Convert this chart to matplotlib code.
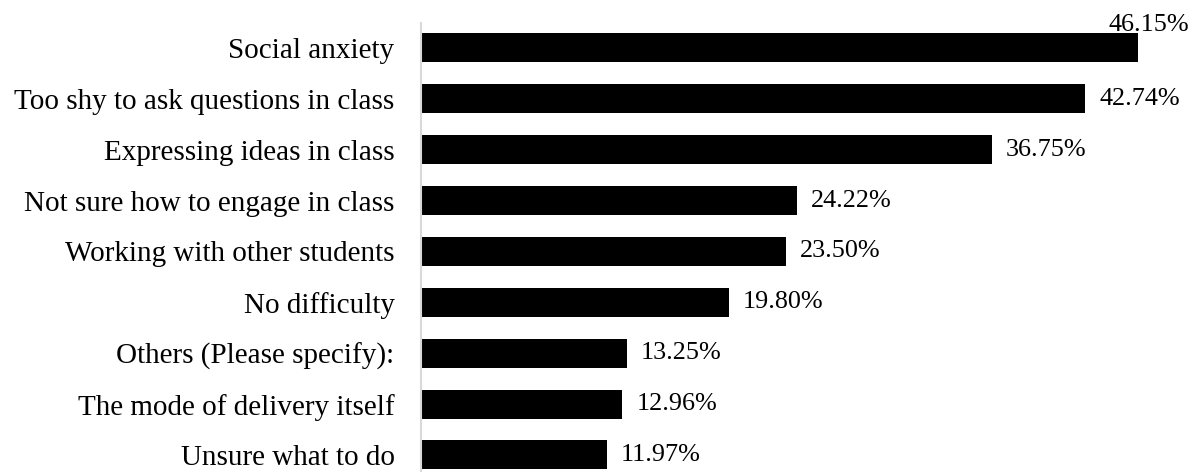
import matplotlib.pyplot as plt
import numpy as np

categories = ['Social anxiety', 'Too shy to ask questions in class',
              'Expressing ideas in class', 'Not sure how to engage in class',
              'Working with other students', 'No difficulty',
              'Others (Please specify):', 'The mode of delivery itself',
              'Unsure what to do']
values = [46.15, 42.74, 36.75, 24.22, 23.50, 19.80, 13.25, 12.96, 11.97]

plt.rcParams['font.family'] = ['Liberation Serif', 'DejaVu Serif']

fig = plt.figure(figsize=(11.98, 4.72), dpi=100)
ax = fig.add_axes([0.3514, -0.0178, 0.6486, 0.970])

y = np.arange(len(categories))
ax.barh(y, values, height=0.57, color='black')
ax.set_ylim(len(categories) - 0.5, -0.5)
ax.set_xlim(0, 50)

ax.set_yticks(y)
ax.set_yticklabels(categories, fontsize=21)
ax.tick_params(axis='y', length=0, pad=19)
ax.set_xticks([])
for s in ['top', 'right', 'bottom']:
    ax.spines[s].set_visible(False)
ax.spines['left'].set_color('#d9d9d9')
ax.spines['left'].set_linewidth(1.5)

for i, v in enumerate(values):
    if i == 0:
        # no room on the right, so the first label sits above the bar end
        ax.annotate(f'{v:.2f}%', xy=(v, i - 0.285), xytext=(-30, -3),
                    textcoords='offset pixels', ha='left', va='bottom', fontsize=18.8)
    else:
        ax.annotate(f'{v:.2f}%', xy=(v, i), xytext=(14, 0),
                    textcoords='offset pixels', ha='left', va='center', fontsize=18.8)

fig.savefig('out.png', dpi=100)
